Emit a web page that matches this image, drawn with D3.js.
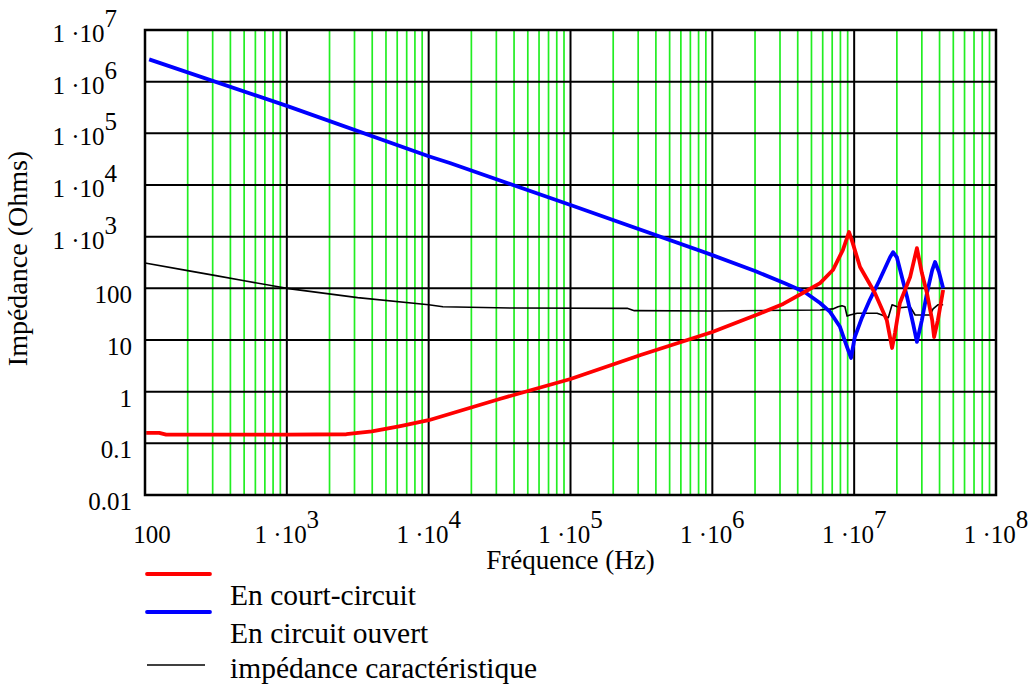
<!DOCTYPE html>
<html>
<head>
<meta charset="utf-8">
<script src="https://cdn.jsdelivr.net/npm/d3@7"></script>
<style>
  body { margin: 0; background: #fff; }
  text { font-family: "Liberation Serif", "Times New Roman", serif; fill: #000; }
</style>
</head>
<body>
<div id="chart"></div>
<script>
// Axis ticks
const xTicks = [1e2, 1e3, 1e4, 1e5, 1e6, 1e7, 1e8];
const xTickLabels = [["100", ""], ["1 \u00b710", "3"], ["1 \u00b710", "4"], ["1 \u00b710", "5"], ["1 \u00b710", "6"], ["1 \u00b710", "7"], ["1 \u00b710", "8"]];
const yTicks = [1e-2, 1e-1, 1, 10, 100, 1e3, 1e4, 1e5, 1e6, 1e7];
const yTickLabels = [["0.01", ""], ["0.1", ""], ["1", ""], ["10", ""], ["100", ""], ["1 \u00b710", "3"], ["1 \u00b710", "4"], ["1 \u00b710", "5"], ["1 \u00b710", "6"], ["1 \u00b710", "7"]];

// En court-circuit (Hz, Ohms)
const shortFreq = [102, 126, 141, 316, 1e3, 2.63e3, 3.98e3, 6.31e3, 1e4, 3.16e4, 1e5, 3.16e5, 1e6,
  2.19e6, 3.16e6, 4.47e6, 5.75e6, 7.08e6, 8.32e6, 9.2e6, 9.77e6, 1.1e7, 1.4e7, 1.7e7, 1.85e7, 1.94e7,
  2.1e7, 2.48e7, 2.77e7, 3.0e7, 3.26e7, 3.55e7, 3.66e7, 3.89e7, 4.24e7];
const shortZ = [0.16, 0.16, 0.148, 0.147, 0.147, 0.15, 0.17, 0.216, 0.28, 0.72, 1.76, 5.2, 14.3,
  33, 50, 85, 126, 226, 550, 1230, 750, 258, 81, 24, 7, 13.6,
  52, 165, 600, 200, 81, 24, 11.4, 24, 93];

// En circuit ouvert
const openFreq = [107, 1e3, 1e4, 1.41e4, 1e5, 1e6, 2e6, 3.24e6, 4.47e6, 5.75e6, 6.76e6, 7.94e6, 8.91e6,
  9.5e6, 1.01e7, 1.135e7, 1.29e7, 1.51e7, 1.79e7, 1.88e7, 2.0e7, 2.36e7, 2.6e7, 2.77e7, 3.0e7, 3.26e7,
  3.55e7, 3.72e7, 3.96e7, 4.24e7];
const openZ = [2.7e6, 3.4e5, 3.6e4, 2.66e4, 4.1e3, 440, 216, 126, 85, 52, 35, 18, 7.3,
  4.5, 11.4, 27, 60, 145, 400, 500, 400, 68, 21, 9.2, 24, 81,
  225, 324, 208, 100];

// impédance caractéristique
const charFreq = [100, 200, 316, 501, 1e3, 3.16e3, 1e4, 1.26e4, 3.98e4, 2.51e5, 2.82e5, 1e6, 5.75e6, 7.08e6,
  7.69e6, 8.2e6, 8.61e6, 8.91e6, 9.33e6, 1.05e7, 1.45e7, 1.57e7, 1.74e7, 1.85e7, 2.1e7, 2.48e7, 2.69e7,
  3.43e7, 3.6e7, 3.89e7, 4.24e7];
const charZ = [310, 220, 176, 140, 100, 66, 48, 44, 41.5, 41, 37, 36.5, 38, 40,
  44, 46, 44, 29, 30.5, 33, 33, 30.5, 27, 48, 42, 44, 30.5,
  30.5, 40, 48, 48];

const seriesNames = ["En court-circuit", "En circuit ouvert", "imp\u00e9dance caract\u00e9ristique"];
const seriesColors = ["#ff0000", "#0000ff", "#000000"];

const W = 1030, H = 684;
const plot = { left: 145, right: 996, top: 30, bottom: 495 };

const svg = d3.select('#chart').append('svg')
  .attr('width', W).attr('height', H);
svg.append('rect').attr('width', W).attr('height', H).attr('fill', '#fff');

const x = d3.scaleLog().domain([1e2, 1e8]).range([plot.left, plot.right]);
const y = d3.scaleLog().domain([1e-2, 1e7]).range([plot.bottom, plot.top]);

// Minor vertical grid (green)
const minor = x.ticks().filter(v => !xTicks.some(t => Math.abs(t - v) / t < 1e-9));
svg.append('g').selectAll('line').data(minor).join('line')
  .attr('x1', d => x(d)).attr('x2', d => x(d))
  .attr('y1', plot.top).attr('y2', plot.bottom)
  .attr('stroke', '#22ee22').attr('stroke-width', 1.7);

// Major grid (black)
const grid = svg.append('g').attr('stroke', '#000').attr('stroke-width', 2);
grid.selectAll('line.v').data(xTicks).join('line').attr('class', 'v')
  .attr('x1', d => x(d)).attr('x2', d => x(d))
  .attr('y1', plot.top).attr('y2', plot.bottom);
grid.selectAll('line.h').data(yTicks).join('line').attr('class', 'h')
  .attr('x1', plot.left).attr('x2', plot.right)
  .attr('y1', d => y(d)).attr('y2', d => y(d));

// Data lines
const line = d3.line().x(d => x(d[0])).y(d => y(d[1]));
const series = [
  { f: charFreq, z: charZ, color: seriesColors[2], w: 1.6 },
  { f: openFreq, z: openZ, color: seriesColors[1], w: 3.8 },
  { f: shortFreq, z: shortZ, color: seriesColors[0], w: 3.8 },
];
series.forEach(s => {
  svg.append('path')
    .datum(s.f.map((f, i) => [f, s.z[i]]))
    .attr('d', line)
    .attr('fill', 'none')
    .attr('stroke', s.color)
    .attr('stroke-width', s.w)
    .attr('stroke-linejoin', 'round');
});

// Frame
svg.append('rect')
  .attr('x', plot.left).attr('y', plot.top)
  .attr('width', plot.right - plot.left).attr('height', plot.bottom - plot.top)
  .attr('fill', 'none').attr('stroke', '#000').attr('stroke-width', 2.5);

// Tick labels
function label(g, parts, anchor) {
  const t = g.append('text').attr('text-anchor', anchor).style('font-size', '25px');
  t.append('tspan').text(parts[0]);
  if (parts[1]) t.append('tspan').attr('dy', -15).text(parts[1]);
  return t;
}
xTicks.forEach((v, i) => {
  const p = xTickLabels[i];
  const g = svg.append('g').attr('transform', `translate(${x(v) + (p[1] ? 0 : 7)},543)`);
  label(g, p, 'middle');
});
yTicks.forEach((v, i) => {
  const p = yTickLabels[i];
  const g = svg.append('g').attr('transform', `translate(${p[1] ? 117 : 132},${y(v) + (p[1] ? 12 : 15)})`);
  label(g, p, 'end');
});

// Axis titles
svg.append('text')
  .attr('x', (plot.left + plot.right) / 2).attr('y', 569)
  .attr('text-anchor', 'middle').style('font-size', '27px')
  .text('Fr\u00e9quence (Hz)');
svg.append('text')
  .attr('transform', `translate(27,${(plot.top + plot.bottom) / 2 - 4}) rotate(-90)`)
  .attr('text-anchor', 'middle').style('font-size', '28px')
  .text('Imp\u00e9dance (Ohms)');

// Legend
const legY = [574, 612, 665];
const legText = [605, 643, 678];
const legW = [3.8, 3.8, 1.6];
seriesNames.forEach((name, i) => {
  svg.append('line')
    .attr('x1', 147).attr('x2', i === 2 ? 205 : 210)
    .attr('y1', legY[i]).attr('y2', legY[i])
    .attr('stroke', seriesColors[i]).attr('stroke-width', legW[i])
    .attr('stroke-linecap', i === 2 ? 'butt' : 'round');
  svg.append('text')
    .attr('x', 230).attr('y', legText[i])
    .style('font-size', '29.5px')
    .text(name);
});
</script>
</body>
</html>
